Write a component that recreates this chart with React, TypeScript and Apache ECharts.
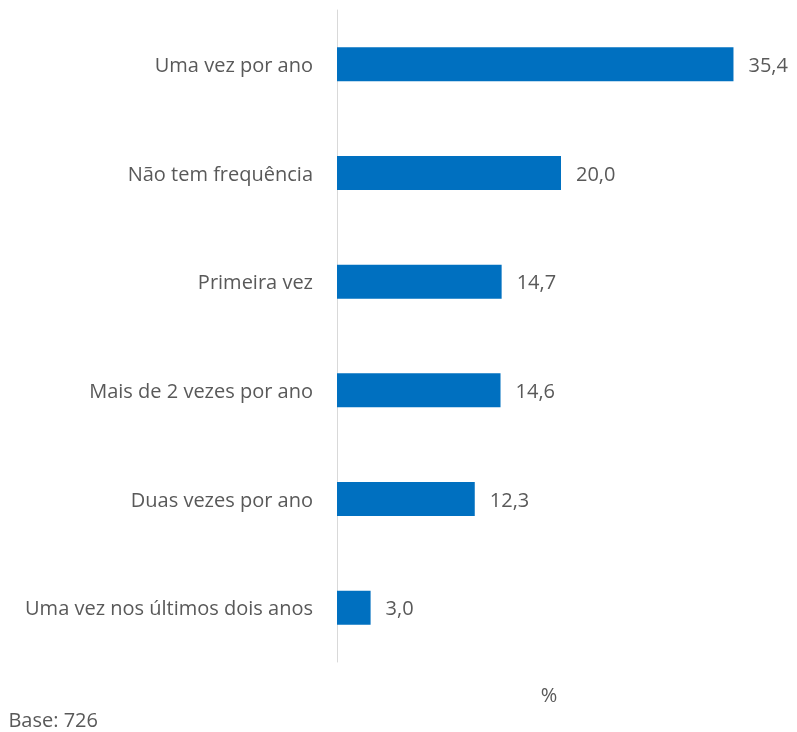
import React, { useEffect, useRef } from "react";
import * as echarts from "echarts";

const categories = [
  "Uma vez por ano",
  "Não tem frequência",
  "Primeira vez",
  "Mais de 2 vezes por ano",
  "Duas vezes por ano",
  "Uma vez nos últimos dois anos",
];
const values = [35.4, 20.0, 14.7, 14.6, 12.3, 3.0];
const unitLabel = "%";
const baseNote = "Base: 726";

const FONT = "'Open Sans', sans-serif";
const TEXT = "#595959";
const SIZE = 20;

export default function App() {
  const ref = useRef<HTMLDivElement>(null);
  useEffect(() => {
    if (!ref.current) return;
    const chart = echarts.init(ref.current, null, { renderer: "svg" });
    chart.setOption({
      animation: false,
      grid: { left: 337, top: 10, bottom: 70, right: 12, containLabel: false },
      xAxis: {
        type: "value",
        min: 0,
        max: 40,
        show: false,
      },
      yAxis: {
        type: "category",
        data: categories,
        inverse: true,
        axisLine: { show: true, lineStyle: { color: "#d9d9d9", width: 1 } },
        axisTick: { show: false },
        axisLabel: {
          margin: 24,
          color: TEXT,
          fontFamily: FONT,
          fontSize: SIZE,
        },
      },
      series: [
        {
          type: "bar",
          data: values,
          barWidth: 34,
          itemStyle: { color: "#0070C0" },
          label: {
            show: true,
            position: "right",
            distance: 15,
            color: TEXT,
            fontFamily: FONT,
            fontSize: SIZE,
            formatter: (p: any) => p.value.toFixed(1).replace(".", ","),
          },
        },
      ],
      graphic: [
        {
          type: "text",
          x: 549,
          y: 694,
          style: {
            text: unitLabel,
            fill: TEXT,
            font: `${SIZE}px ${FONT}`,
            textAlign: "center",
            textVerticalAlign: "middle",
          },
        },
        {
          type: "text",
          x: 98,
          y: 719,
          style: {
            text: baseNote,
            fill: TEXT,
            font: `${SIZE}px ${FONT}`,
            textAlign: "right",
            textVerticalAlign: "middle",
          },
        },
      ],
    });
    return () => chart.dispose();
  }, []);
  return <div ref={ref} style={{ width: 797, height: 732, position: "fixed", left: 0, top: 0 }} />;
}
